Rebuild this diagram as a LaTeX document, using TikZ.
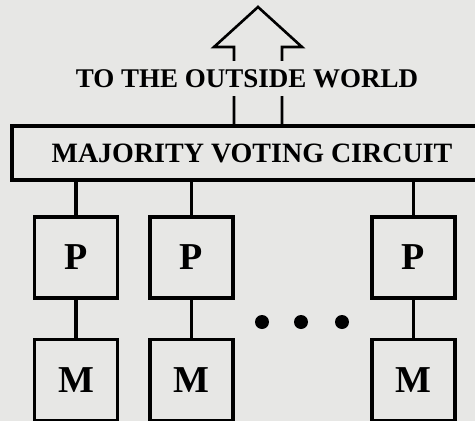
\documentclass[tikz,border=0pt]{standalone}
\usepackage{fontspec}
\setmainfont{Liberation Serif}
\usetikzlibrary{arrows.meta,positioning,calc}
\definecolor{paper}{RGB}{231,231,229}
\tikzset{
  unit/.style={draw,line width=3.2pt,minimum width=83pt,minimum height=81pt,
    inner sep=0pt,font=\fontsize{38}{40}\selectfont\bfseries},
  voter/.style={draw,line width=3.2pt,minimum width=480pt,minimum height=54pt,
    inner sep=0pt,font=\fontsize{28}{30}\selectfont\bfseries},
  label/.style={fill=paper,inner xsep=2pt,inner ysep=8pt,
    font=\fontsize{27}{29}\selectfont\bfseries}
}

\begin{document}
\begin{tikzpicture}[x=1pt,y=-1pt,line width=3.2pt]
  \fill[paper] (0,0) rectangle (475,421);
  \clip (0,0) rectangle (475,421);
  \node[voter] (vote) at (252,153) {MAJORITY VOTING CIRCUIT};
  \draw[line width=2.6pt,line join=miter] (234,126) -- (234,47) -- (214,47) -- (258,7)
    -- (302,47) -- (282,47) -- (282,126);
  \node[label] (world) at (247,78.5) {TO THE OUTSIDE WORLD};
  \foreach \i/\x in {1/76,2/191.5,3/413.5} {
    \node[unit] (p\i) at (\x,257.5) {P};
    \node[unit] (m\i) at (\x,380) {M};
    \draw (p\i.north) -- (p\i.north |- vote.south);
    \draw (p\i) -- (m\i);
  }
  \foreach \x in {262,301,342}
    \fill (\x,322) circle (7pt);
\end{tikzpicture}
\end{document}
